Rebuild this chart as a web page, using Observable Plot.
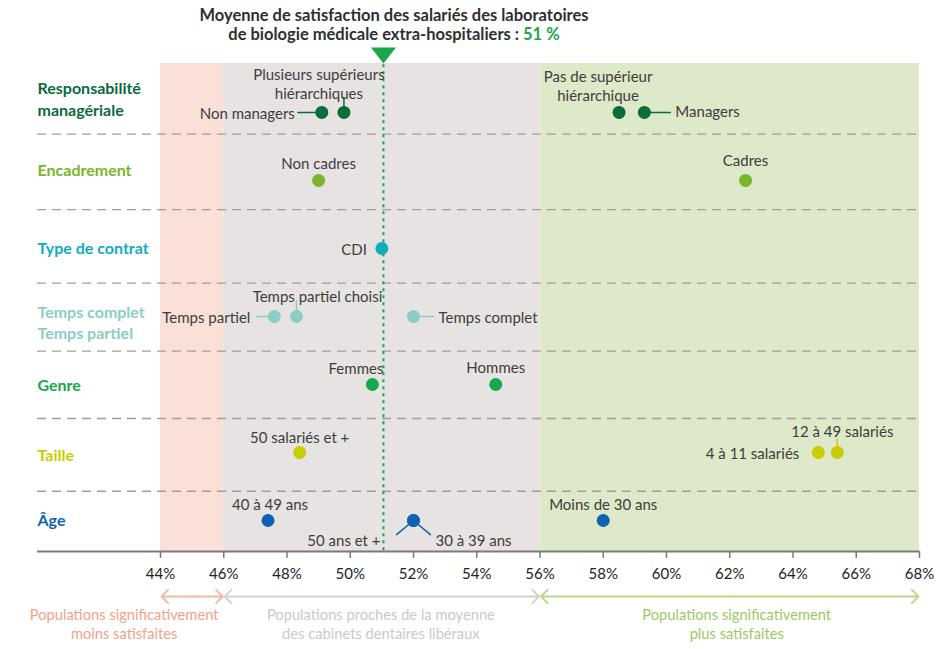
<!DOCTYPE html>
<html><head><meta charset="utf-8">
<script src="https://cdn.jsdelivr.net/npm/d3@7"></script>
<script src="https://cdn.jsdelivr.net/npm/@observablehq/plot@0.6"></script>
<style>
body{margin:0;background:#fff;font-family:Lato,sans-serif;}
#title{width:788px;height:45px;box-sizing:border-box;padding-top:6px;text-align:center;font-weight:bold;font-size:16.5px;line-height:19px;color:#2f2f2f;}
#title .v{color:#1aa64a}
</style></head><body>
<div id="title">Moyenne de satisfaction des salariés des laboratoires<br>de biologie médicale extra-hospitaliers : <span class="v">51 %</span></div>
<div id="chart"></div>
<script>
// ---- data ----
const groups = ["Responsabilité\nmanagériale", "Encadrement", "Type de contrat", "Temps complet\nTemps partiel", "Genre", "Taille", "Âge"];
const groupColors = ["#0a6b3b", "#79b62a", "#12abbd", "#8bcec1", "#17a84c", "#c8cd00", "#0d63b2"];
const pointLabels = ["Non managers", "Plusieurs supérieurs\nhiérarchiques", "Pas de supérieur\nhiérarchique", "Managers",
  "Non cadres", "Cadres", "CDI", "Temps partiel", "Temps partiel choisi", "Temps complet",
  "Femmes", "Hommes", "50 salariés et +", "4 à 11 salariés", "12 à 49 salariés",
  "40 à 49 ans", "Moins de 30 ans", "30 à 39 ans", "50 ans et +"];
const pointGroups = [0, 0, 0, 0, 1, 1, 2, 3, 3, 3, 4, 4, 5, 5, 5, 6, 6, 6, 6];
const pointValues = [49.1, 49.8, 58.5, 59.3, 49.0, 62.5, 51.0, 47.6, 48.3, 52.0, 50.7, 54.6, 48.4, 64.8, 65.4, 47.4, 58.0, 52.0, 52.0];
const meanValue = 51.05;
const xTicks = [44, 46, 48, 50, 52, 54, 56, 58, 60, 62, 64, 66, 68];
const zoneBounds = [44, 46, 56, 68];
const zoneLabels = ["Populations significativement\nmoins satisfaites", "Populations proches de la moyenne\ndes cabinets dentaires libéraux", "Populations significativement\nplus satisfaites"];

// ---- layout / styles ----
const zoneFill = ["#fae0d6", "#e7e3e2", "#dde9c8"];
const zoneArrow = ["#f5b9a3", "#d8d1cf", "#b8d88c"];
const zoneText = ["#f3a28a", "#d0c8c6", "#a0c766"];
const zoneCaptionDx = [-68, -1, 7];
const separators = [0.32, 1.43, 2.51, 3.51, 4.5, 5.57];
const yTop = -0.72, yBottom = 6.456;
const groupLabelDy = [-14.5, -11, -1, 5, 0, 2, -1];
const labelLayout = {
  "Non managers": {anchor: "end", dx: -27, dy: 0, lead: [24, 270]},
  "Plusieurs supérieurs\nhiérarchiques": {anchor: "middle", dx: -25, dy: -29, lead: [15, 0]},
  "Pas de supérieur\nhiérarchique": {anchor: "middle", dx: -21, dy: -27},
  "Managers": {anchor: "start", dx: 31, dy: -2, lead: [26, 90]},
  "Non cadres": {anchor: "middle", dx: 0, dy: -18},
  "Cadres": {anchor: "middle", dx: 0, dy: -21},
  "CDI": {anchor: "end", dx: -15, dy: 0},
  "Temps partiel": {anchor: "end", dx: -24, dy: 0, lead: [18, 270]},
  "Temps partiel choisi": {anchor: "middle", dx: 21, dy: -21, lead: [16, 0]},
  "Temps complet": {anchor: "start", dx: 25, dy: 0, lead: [20, 90]},
  "Femmes": {anchor: "end", dx: 11, dy: -17},
  "Hommes": {anchor: "middle", dx: 0, dy: -18},
  "50 salariés et +": {anchor: "middle", dx: 0, dy: -16},
  "4 à 11 salariés": {anchor: "end", dx: -19, dy: 0},
  "12 à 49 salariés": {anchor: "middle", dx: 5, dy: -22, lead: [13, 0]},
  "40 à 49 ans": {anchor: "middle", dx: 2, dy: -17},
  "Moins de 30 ans": {anchor: "middle", dx: 0, dy: -17},
  "30 à 39 ans": {anchor: "start", dx: 22, dy: 19, lead: [22, 130]},
  "50 ans et +": {anchor: "end", dx: -33, dy: 19, lead: [22, 230]}
};

const points = pointLabels.map((label, i) => ({label, group: pointGroups[i], value: pointValues[i]}));
const zones = zoneLabels.map((label, i) => ({x1: zoneBounds[i], x2: zoneBounds[i + 1], mid: (zoneBounds[i] + zoneBounds[i + 1]) / 2, label, i}));
const groupRows = groups.map((g, i) => ({g, i}));

const lineShape = {draw(ctx, l) { ctx.moveTo(0, 0); ctx.lineTo(0, -l); }};
const downTriangle = {draw(ctx) { ctx.moveTo(-12.5, -16); ctx.lineTo(12.5, -16); ctx.lineTo(0, 0); ctx.closePath(); }};
const extendLeft = -123;

const marks = [
  Plot.rect(zones, {x1: "x1", x2: "x2", fill: d => zoneFill[d.i]}),
  Plot.ruleY(separators, {stroke: "#a49c99", strokeWidth: 1.3, strokeDasharray: "9,6", insetLeft: extendLeft}),
  Plot.ruleX([meanValue], {y1: yTop + 0.02, y2: yBottom, stroke: "#1aa64a", strokeWidth: 2, strokeDasharray: "3,4"}),
  Plot.ruleY([yBottom], {stroke: "#7a7a7a", strokeWidth: 2, insetLeft: extendLeft}),
  Plot.axisX(xTicks, {anchor: "bottom", tickSize: 7, tickPadding: 10, tickFormat: d => d + "%", fontSize: 15, color: "#222", stroke: "#7a7a7a", strokeWidth: 1.5, label: null}),
  Plot.dot([meanValue], {x: d => d, y: () => yTop, symbol: downTriangle, fill: "#1aa64a", stroke: "none", r: 5})
];

points.forEach(p => {
  const L = labelLayout[p.label];
  if (L && L.lead) {
    marks.push(Plot.vector([p], {x: "value", y: "group", length: L.lead[0], rotate: L.lead[1], anchor: "start", shape: lineShape, stroke: groupColors[p.group], strokeWidth: 1.5}));
  }
});
marks.push(Plot.dot(points, {x: "value", y: "group", r: 6.5, fill: d => groupColors[d.group]}));
points.forEach(p => {
  const L = labelLayout[p.label];
  marks.push(Plot.text([p], {x: "value", y: "group", text: "label", textAnchor: L.anchor, dx: L.dx, dy: L.dy, fontSize: 15, lineHeight: 1.27, fill: "#3d3d3d"}));
});
groupRows.forEach(r => {
  marks.push(Plot.text([r], {x: () => 44, y: "i", text: "g", textAnchor: "start", dx: extendLeft, dy: groupLabelDy[r.i], fontSize: 16, fontWeight: "bold", lineHeight: 1.35, fill: groupColors[r.i]}));
});
zones.forEach(z => {
  marks.push(Plot.arrow([z], {x1: "mid", x2: "x1", y1: () => yBottom, y2: () => yBottom, dy: 45, stroke: zoneArrow[z.i], strokeWidth: 2, headLength: 7, headAngle: 90, insetEnd: 1}));
  marks.push(Plot.arrow([z], {x1: "mid", x2: "x2", y1: () => yBottom, y2: () => yBottom, dy: 45, stroke: zoneArrow[z.i], strokeWidth: 2, headLength: 7, headAngle: 90, insetEnd: 1}));
  marks.push(Plot.text([z], {x: "mid", y: () => yBottom, text: "label", dx: zoneCaptionDx[z.i], dy: 72, fontSize: 14.7, lineHeight: 1.3, fill: zoneText[z.i]}));
});

const chart = Plot.plot({
  width: 938,
  height: 604,
  marginTop: 18,
  marginBottom: 98,
  marginLeft: 160,
  marginRight: 19,
  style: {fontFamily: "Lato, sans-serif", fontSize: "15px", background: "#fff", color: "#222"},
  x: {domain: [44, 68], label: null},
  y: {domain: [yTop, yBottom], reverse: true, axis: null},
  color: {type: "identity"},
  marks
});
document.getElementById("chart").appendChild(chart);
</script>
</body></html>
